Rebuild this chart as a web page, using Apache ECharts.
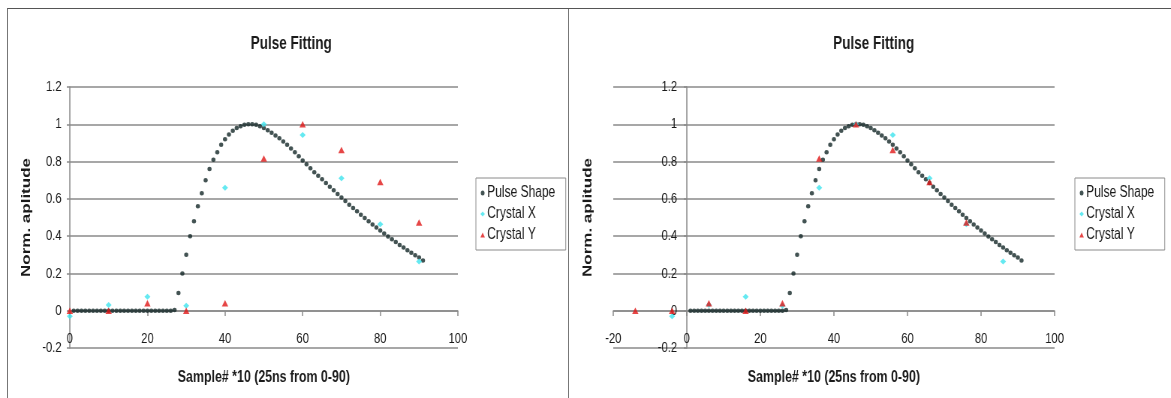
<!DOCTYPE html>
<html>
<head>
<meta charset="utf-8">
<script src="https://cdn.jsdelivr.net/npm/echarts@6/dist/echarts.min.js"></script>
<style>
  html, body { margin: 0; padding: 0; background: #fff; overflow: hidden; }
  .frame { position: absolute; box-sizing: border-box; height: 420px; }
  .frame-left { left: 7px; top: 8px; width: 562px; border-top: 1px solid #555; border-left: 1px solid #777; border-right: 1px solid #777; }
  .frame-right { left: 568px; top: 8px; width: 620px; border-top: 1px solid #555; }
  #chart { position: absolute; left: 0; top: 0; width: 1560px; height: 398px; transform: scaleX(0.7506); transform-origin: 0 0; }
</style>
</head>
<body>
<div class="frame frame-left"></div>
<div class="frame frame-right"></div>
<div id="chart"></div>
<script>
// pulse template, one point per sample
const pulseSamples = [
  1, 2, 3, 4, 5, 6, 7, 8, 9, 10, 11, 12, 13, 14, 15, 16, 17, 18, 19, 20,
  21, 22, 23, 24, 25, 26, 27, 28, 29, 30, 31, 32, 33, 34, 35, 36, 37, 38, 39, 40,
  41, 42, 43, 44, 45, 46, 47, 48, 49, 50, 51, 52, 53, 54, 55, 56, 57, 58, 59, 60,
  61, 62, 63, 64, 65, 66, 67, 68, 69, 70, 71, 72, 73, 74, 75, 76, 77, 78, 79, 80,
  81, 82, 83, 84, 85, 86, 87, 88, 89, 90, 91
];
const pulseShape = [
  0, 0, 0, 0, 0, 0, 0, 0, 0, 0, 0, 0, 0, 0, 0, 0, 0, 0, 0, 0,
  0, 0, 0, 0, 0, 0, 0.004, 0.095, 0.2, 0.3, 0.4, 0.48, 0.56, 0.63, 0.7, 0.76, 0.81, 0.85, 0.89, 0.92,
  0.945, 0.965, 0.98, 0.99, 0.997, 1.0, 1.0, 0.997, 0.99, 0.98, 0.968, 0.955, 0.94, 0.925, 0.908, 0.89, 0.87, 0.85, 0.828, 0.806,
  0.785, 0.764, 0.743, 0.724, 0.705, 0.685, 0.665, 0.646, 0.626, 0.607, 0.588, 0.569, 0.551, 0.533, 0.515, 0.497, 0.48, 0.463, 0.446, 0.43,
  0.414, 0.398, 0.383, 0.368, 0.353, 0.339, 0.325, 0.311, 0.298, 0.285, 0.27
];

// crystal samples (left: raw positions, right: after time shift)
const crystalSamples = [0, 10, 20, 30, 40, 50, 60, 70, 80, 90];
const crystalXShifted = [-4, 6, 16, 26, 36, 46, 56, 66, 76, 86];
const crystalYShifted = [-14, -4, 6, 16, 26, 36, 46, 56, 66, 76];
const crystalX = [-0.03, 0.03, 0.075, 0.027, 0.66, 1.0, 0.943, 0.71, 0.464, 0.264];
const crystalY = [0, 0, 0.04, 0, 0.04, 0.816, 1.0, 0.862, 0.69, 0.473];

const seriesNames = ["Pulse Shape", "Crystal X", "Crystal Y"];
const chartTitle = "Pulse Fitting";
const xName = "Sample# *10 (25ns from 0-90)";
const yName = "Norm. aplitude";

const pairs = (xs, ys) => xs.map((x, i) => [x, ys[i]]);

const GRID_LINE = "#8a8a8a";
const TEXT = "#1a1a1a";
const FONT = "Liberation Sans, Arial, sans-serif";

// axes sit on the zero lines (moved with offset so labels follow)
function xAxisFor(gridIndex, min) {
  return {
    type: "value",
    gridIndex,
    min,
    max: 100,
    interval: 20,
    offset: -37,
    name: xName,
    nameLocation: "middle",
    nameGap: 58,
    nameTextStyle: { color: TEXT, fontSize: 16.5, fontWeight: "bold", fontFamily: FONT },
    axisLine: { onZero: false, lineStyle: { color: GRID_LINE, width: 1.5 } },
    axisTick: { show: true, length: 5, lineStyle: { color: GRID_LINE, width: 1.5 } },
    axisLabel: { color: TEXT, fontSize: 15, margin: 20, fontFamily: FONT },
    splitLine: { show: false },
  };
}

function yAxisFor(gridIndex, offset, nameGap, margin) {
  return {
    type: "value",
    gridIndex,
    min: -0.2,
    max: 1.2,
    interval: 0.2,
    offset,
    name: yName,
    nameLocation: "middle",
    nameGap,
    nameTextStyle: { color: TEXT, fontSize: 17, fontWeight: "bold", fontFamily: FONT },
    axisLine: { show: true, onZero: false, lineStyle: { color: GRID_LINE, width: 1.5 } },
    axisTick: { show: true, length: 4, lineStyle: { color: GRID_LINE, width: 1.5 } },
    axisLabel: { color: TEXT, fontSize: 15, margin, fontFamily: FONT },
    splitLine: { show: true, lineStyle: { color: GRID_LINE, width: 1.5 } },
  };
}

function seriesFor(gridIndex, xSamples, ySamples) {
  return [
    {
      name: seriesNames[0],
      type: "scatter",
      xAxisIndex: gridIndex,
      yAxisIndex: gridIndex,
      symbol: "circle",
      symbolSize: [5.5, 4.5],
      itemStyle: { color: "#142828" },
      data: pairs(pulseSamples, pulseShape),
    },
    {
      name: seriesNames[1],
      type: "scatter",
      xAxisIndex: gridIndex,
      yAxisIndex: gridIndex,
      symbol: "diamond",
      symbolSize: [8, 6],
      itemStyle: { color: "#3fe3ee" },
      data: pairs(xSamples, crystalX),
    },
    {
      name: seriesNames[2],
      type: "scatter",
      xAxisIndex: gridIndex,
      yAxisIndex: gridIndex,
      symbol: "triangle",
      symbolSize: [8.5, 6.5],
      itemStyle: { color: "#e01818" },
      data: pairs(ySamples, crystalY),
    },
  ];
}

function legendAt(left) {
  return {
    orient: "vertical",
    left,
    top: 178,
    data: seriesNames,
    itemWidth: 6,
    itemHeight: 5,
    itemGap: 5,
    padding: [7, 14, 7, 6],
    borderColor: "#8a8a8a",
    borderWidth: 1,
    backgroundColor: "#fff",
    textStyle: { color: TEXT, fontSize: 16, fontFamily: FONT, padding: [0, 0, 0, -2] },
  };
}

const chart = echarts.init(document.getElementById("chart"));
chart.setOption({
  animation: false,
  title: [
    { text: chartTitle, left: 383, top: 30, textAlign: "center",
      textStyle: { color: TEXT, fontSize: 18, fontWeight: "bold", fontFamily: FONT } },
    { text: chartTitle, left: 1159, top: 30, textAlign: "center",
      textStyle: { color: TEXT, fontSize: 18, fontWeight: "bold", fontFamily: FONT } },
  ],
  legend: [legendAt(634), legendAt(1432)],
  grid: [
    { left: 93, right: 950, top: 87, bottom: 50, containLabel: false, outerBoundsMode: "none" },
    { left: 817, right: 155, top: 87, bottom: 50, containLabel: false, outerBoundsMode: "none" },
  ],
  xAxis: [xAxisFor(0, 0), xAxisFor(1, -20)],
  yAxis: [yAxisFor(0, 0, 49, 11), yAxisFor(1, -98, 123, 13)],
  series: [...seriesFor(0, crystalSamples, crystalSamples), ...seriesFor(1, crystalXShifted, crystalYShifted)],
});
</script>
</body>
</html>
